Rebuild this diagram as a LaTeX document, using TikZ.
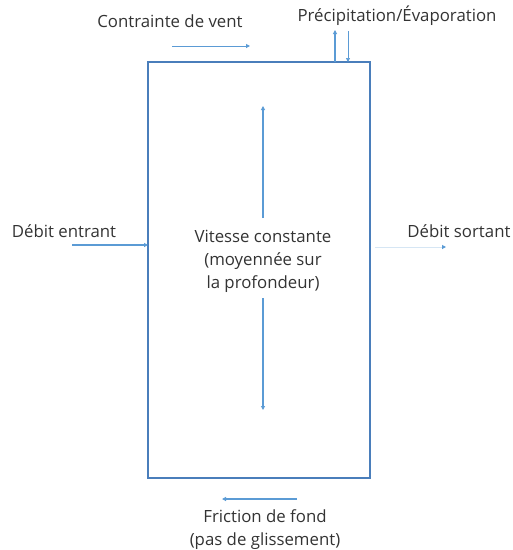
\documentclass[tikz,border=0pt]{standalone}
\usepackage{fontspec}
\setmainfont{Open Sans}
\usetikzlibrary{arrows.meta}
\definecolor{boxblue}{HTML}{4A7EBB}
\definecolor{arrblue}{HTML}{5B9BD5}
\definecolor{txtgray}{HTML}{333333}
\tikzset{
  lbl/.style={text=txtgray, font=\fontsize{16.8}{23}\selectfont, align=center, inner sep=0pt},
  flow/.style={draw=arrblue, line width=1pt, -{Triangle[length=4pt,width=4pt]}},
  faint/.style={draw=arrblue!25, line width=1pt, -{Triangle[length=4pt,width=4pt,color=arrblue]}},
}
\begin{document}
\begin{tikzpicture}[x=1pt,y=-1pt]
\useasboundingbox (0,0) rectangle (513,550);
% control volume
\node[draw=boxblue, line width=1.5pt, minimum width=222pt, minimum height=416pt, inner sep=0pt] (box) at (259,270) {};
% labels
\node[lbl] (wind) at (170,21) {Contrainte de vent};
\node[lbl] (pe) at (397,16) {Précipitation/Évaporation};
\node[lbl] (in) at (64,231) {Débit entrant};
\node[lbl] (out) at (459,231) {Débit sortant};
\node[lbl] (vel) at (263,261) {Vitesse constante\\(moyennée sur\\la profondeur)};
\node[lbl] (fric) at (265,530) {Friction de fond\\(pas de glissement)};
% helper points
\coordinate (w0) at (172,46); \coordinate (w1) at (250,46);
\coordinate (p0) at (335,62); \coordinate (p1) at (335,30);
\coordinate (e0) at (348,31); \coordinate (e1) at (348,62);
\coordinate (i0) at (72,245); \coordinate (i1) at (148,245);
\coordinate (o0) at (375,247); \coordinate (o1) at (446,247);
\coordinate (u0) at (263,218); \coordinate (u1) at (263,106);
\coordinate (d0) at (263,298); \coordinate (d1) at (263,410);
\coordinate (f0) at (297,499); \coordinate (f1) at (222,499);
% arrows
\draw[flow] (w0) -- (w1);
\draw[flow, line width=1.4pt] (p0) -- (p1);
\draw[flow, line width=0.6pt] (e0) -- (e1);
\draw[flow, line width=1.3pt] (i0) -- (i1);
\draw[faint] (o0) -- (o1);
\draw[flow, line width=1.3pt] (u0) -- (u1);
\draw[flow, line width=1.3pt] (d0) -- (d1);
\draw[flow, line width=1.3pt] (f0) -- (f1);
\end{tikzpicture}
\end{document}
